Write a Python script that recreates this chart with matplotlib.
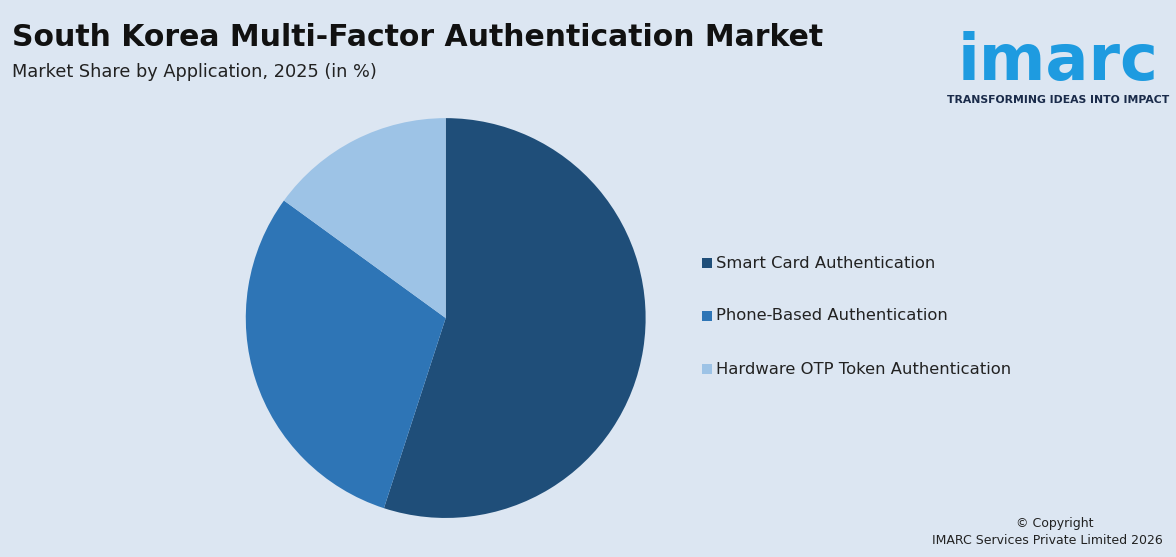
import matplotlib
matplotlib.use("Agg")
import matplotlib.pyplot as plt
from matplotlib.patches import Rectangle

categories = ["Smart Card Authentication", "Phone-Based Authentication", "Hardware OTP Token Authentication"]
shares = [55, 30, 15]
colors = ["#1f4e79", "#2e75b6", "#9dc3e6"]
bg = "#dce6f2"

fig = plt.figure(figsize=(11.76, 5.57), dpi=100, facecolor=bg)
ax = fig.add_axes([0.379 - 0.170, 0.429 - 0.359, 0.340, 0.718])
ax.pie(shares, colors=colors, startangle=90, counterclock=False,
       wedgeprops=dict(linewidth=0))
ax.set_aspect("equal")
ax.set_xlim(-1, 1)
ax.set_ylim(-1, 1)
ax.axis("off")

fig.text(12/1176, 1-37/557, "South Korea Multi-Factor Authentication Market",
         fontsize=21.5, fontweight="bold", color="#111111", va="center")
fig.text(12/1176, 1-72/557, "Market Share by Application, 2025 (in %)",
         fontsize=12.8, color="#222222", va="center")

ys = [263, 316, 369]
for cat, col, y in zip(categories, colors, ys):
    fig.patches.append(Rectangle((702/1176, 1-(y+5)/557), 10/1176, 10/557,
                                 transform=fig.transFigure, facecolor=col, edgecolor="none"))
    fig.text(716/1176, 1-y/557, cat, fontsize=11.8, color="#222222", va="center")

fig.text(1058/1176, 1-62/557, "imarc", fontsize=46, fontweight="bold",
         color="#1e9be0", ha="center", va="center")
fig.text(1058/1176, 1-100/557, "TRANSFORMING IDEAS INTO IMPACT", fontsize=7.8,
         fontweight="bold", color="#1a2b4a", ha="center", va="center")

fig.text(1094/1176, 1-523/557, "© Copyright", fontsize=9, color="#222222", ha="right", va="center")
fig.text(1163/1176, 1-541/557, "IMARC Services Private Limited 2026", fontsize=9,
         color="#222222", ha="right", va="center")

fig.savefig("out.png", dpi=100, facecolor=bg)
